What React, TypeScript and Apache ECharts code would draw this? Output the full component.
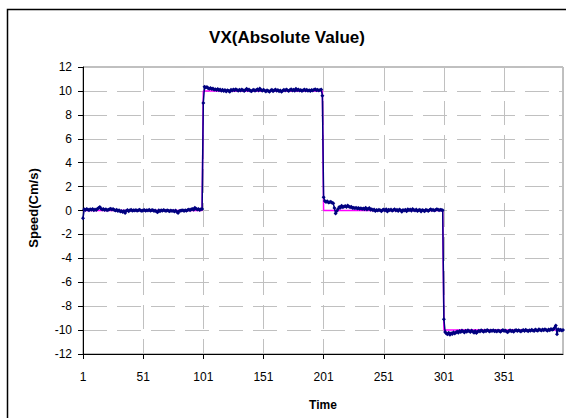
import React, { useEffect, useRef } from "react";
import * as echarts from "echarts";

const TITLE = "VX(Absolute Value)";
const X_NAME = "Time";
const Y_NAME = "Speed(Cm/s)";

// Measured speed, four segments of 100 samples each
const seg1 = [
  -0.65,
  0.10, 0.05, 0.12, 0.08, 0.03, 0.10, 0.06, 0.12, 0.02, 0.08,
  0.05, 0.14, 0.20, 0.30, 0.15, 0.08, 0.12, 0.05, 0.10, 0.02,
  0.06, 0.10, 0.14, 0.08, 0.12, 0.04, 0.00, 0.06, -0.05, 0.02,
  -0.08, -0.04, -0.12, -0.05, -0.20, -0.02, 0.04, -0.06, 0.02, 0.06,
  -0.02, 0.03, 0.00, 0.05, -0.03, 0.02, 0.06, 0.00, -0.04, 0.02,
  0.05, -0.02, 0.03, 0.00, 0.06, -0.03, 0.02, 0.04, -0.05, 0.00,
  -0.08, -0.15, 0.02, -0.06, 0.03, -0.02, 0.05, 0.00, -0.04, 0.02,
  -0.03, -0.06, 0.00, -0.05, -0.02, -0.08, 0.00, -0.10, -0.20, -0.05,
  -0.02, 0.00, 0.03, -0.04, 0.02, -0.03, 0.05, 0.08, 0.02, 0.10,
  0.12, 0.06, 0.22, 0.15, 0.08, 0.12, 0.04, 0.10, 0.12,
];
const seg2 = [
  9.0,
  10.35, 10.28, 10.32, 10.22, 10.18, 10.25, 10.15, 10.2, 10.1, 10.14,
  10.08, 10.16, 10.05, 10.12, 10.02, 10.1, 10.0, 10.08, 9.96, 10.06,
  10.02, 9.94, 10.1, 10.04, 10.12, 10.06, 10.14, 10.08, 10.02, 10.1,
  10.04, 10.12, 10.06, 10.0, 10.08, 10.18, 10.05, 10.12, 10.02, 9.98,
  10.06, 10.1, 10.02, 10.08, 10.14, 10.04, 10.2, 10.08, 10.02, 10.1,
  10.04, 9.96, 10.06, 10.0, 9.94, 10.04, 10.1, 9.98, 10.06, 10.12,
  10.02, 10.08, 9.98, 10.04, 9.92, 10.02, 10.1, 10.04, 10.12, 10.06,
  10.0, 10.08, 10.14, 10.04, 10.1, 10.02, 10.18, 10.06, 10.12, 10.04,
  10.08, 10.0, 10.06, 10.12, 10.04, 10.1, 10.02, 10.06, 10.0, 10.08,
  10.04, 10.1, 10.14, 10.06, 10.1, 10.04, 10.08, 10.12,
  9.6,
];
const seg3 = [
  1.1,
  0.8, 0.72, 0.78, 0.66, 0.7, 0.74, 0.64, 0.6, 0.2, -0.25,
  -0.05, 0.12, 0.3, 0.22, 0.4, 0.28, 0.34, 0.38, 0.3, 0.42,
  0.34, 0.28, 0.32, 0.2, 0.24, 0.18, 0.22, 0.16, 0.2, 0.14,
  0.18, 0.12, 0.16, 0.1, 0.24, 0.08, 0.14, 0.2, 0.06, 0.1,
  0.02, 0.08, -0.04, 0.04, 0.0, 0.06, 0.02, -0.06, 0.04, 0.08,
  0.0, 0.1, -0.08, 0.06, 0.02, 0.08, -0.02, 0.04, 0.1, 0.0,
  0.06, -0.04, 0.08, 0.02, -0.1, 0.04, 0.0, 0.06, -0.06, 0.1,
  0.02, 0.08, -0.02, 0.12, 0.04, 0.0, 0.08, -0.04, 0.02, 0.06,
  -0.08, 0.04, 0.0, -0.06, 0.06, 0.02, -0.04, 0.04, 0.1, 0.02,
  0.06, 0.0, 0.04, 0.1, 0.08, 0.02, 0.06, 0.04, 0.02,
];
const seg4 = [
  -9.1,
  -10.15, -10.28, -10.34, -10.22, -10.38, -10.26, -10.32, -10.18, -10.28, -10.2,
  -10.12, -10.22, -10.08, -10.16, -10.04, -10.12, -10.2, -10.06, -10.14, -10.02,
  -10.1, -10.16, -10.04, -10.12, -10.22, -10.08, -10.24, -10.14, -10.06, -10.12,
  -10.02, -10.08, -10.14, -10.04, -10.1, -10.0, -10.06, -10.12, -10.04, -10.08,
  -10.02, -10.1, -10.06, -10.12, -10.04, -10.08, -10.14, -10.06, -10.0, -10.08,
  -10.04, -10.12, -10.18, -10.08, -10.02, -10.1, -10.06, -10.14, -10.04, -10.0,
  -10.08, -10.02, -10.06, -10.12, -10.04, -10.0, -10.08, -9.98, -10.04, -10.1,
  -10.02, -10.06, -9.98, -10.04, -10.08, -9.96, -10.02, -10.06, -9.94, -10.0,
  -10.04, -9.96, -10.02, -9.92, -10.0, -10.06, -9.96, -10.02, -9.9, -9.98,
  -9.94, -9.8, -9.62, -10.35, -9.92, -10.02, -9.98, -10.04, -10.0,
];

// Commanded (reference) speed levels and the sample index where each starts
const stepLevels = [0, 10, 0, -10];
const stepStarts = [0, 100, 200, 300];
const LABEL_EVERY = 50;

const measured = [...seg1, ...seg2, ...seg3, ...seg4];
const categories = measured.map((_, i) => String(i + 1));
const reference = measured.map((_, i) => {
  let lvl = stepLevels[0];
  for (let k = 0; k < stepStarts.length; k++) if (i >= stepStarts[k]) lvl = stepLevels[k];
  return lvl;
});

const FONT = '"Liberation Sans", Arial, sans-serif';
const every = (i: number) => i % LABEL_EVERY === 0;

export default function App() {
  const ref = useRef<HTMLDivElement>(null);
  useEffect(() => {
    if (!ref.current) return;
    const chart = echarts.init(ref.current, undefined, { renderer: "svg" });
    chart.setOption({
      animation: false,
      backgroundColor: "#ffffff",
      textStyle: { fontFamily: FONT },
      graphic: [
        {
          type: "rect",
          silent: true,
          z: -10,
          shape: { x: 7.5, y: 9.5, width: 620, height: 520 },
          style: { fill: "none", stroke: "#000", lineWidth: 1.5 },
        },
        {
          type: "text",
          x: 287,
          y: 37,
          style: {
            text: TITLE,
            font: `bold 17px ${FONT}`,
            fill: "#000",
            align: "center",
            verticalAlign: "middle",
          },
        },
        {
          type: "text",
          x: 323,
          y: 405,
          style: {
            text: X_NAME,
            font: `bold 12px ${FONT}`,
            fill: "#000",
            align: "center",
            verticalAlign: "middle",
          },
        },
        {
          type: "text",
          x: 33,
          y: 208,
          rotation: Math.PI / 2,
          style: {
            text: Y_NAME,
            font: `bold 13px ${FONT}`,
            fill: "#000",
            align: "center",
            verticalAlign: "middle",
          },
        },
      ],
      grid: {
        left: 83,
        top: 67,
        width: 480,
        height: 287,
        show: true,
        borderColor: "#808080",
        borderWidth: 1,
        containLabel: false,
      },
      xAxis: {
        type: "category",
        data: categories,
        boundaryGap: false,
        axisLine: { onZero: false, lineStyle: { color: "#000", width: 1 } },
        axisTick: { interval: every, length: 5, lineStyle: { color: "#000" } },
        axisLabel: {
          interval: every,
          margin: 17,
          fontSize: 12,
          color: "#000",
          fontFamily: FONT,
        },
        splitLine: {
          show: true,
          interval: every,
          lineStyle: { color: "#c0c0c0", type: [24, 10] },
        },
      },
      yAxis: {
        type: "value",
        min: -12,
        max: 12,
        interval: 2,
        axisLine: { show: true, lineStyle: { color: "#000", width: 1 } },
        axisTick: { show: true, length: 5, lineStyle: { color: "#000" } },
        axisLabel: { margin: 11, fontSize: 12, color: "#000", fontFamily: FONT },
        splitLine: { show: true, lineStyle: { color: "#c0c0c0", type: [24, 10] } },
      },
      series: [
        {
          type: "line",
          data: reference,
          showSymbol: false,
          lineStyle: { color: "#ff00ff", width: 1.5 },
          z: 2,
        },
        {
          type: "line",
          data: measured,
          symbol: "diamond",
          symbolSize: 4,
          showAllSymbol: true,
          itemStyle: { color: "#000080" },
          lineStyle: { color: "#000080", width: 1.5 },
          z: 3,
        },
      ],
    });
    return () => chart.dispose();
  }, []);
  return (
    <div
      ref={ref}
      style={{ position: "fixed", left: 0, top: 0, width: 566, height: 418, background: "#fff" }}
    />
  );
}
